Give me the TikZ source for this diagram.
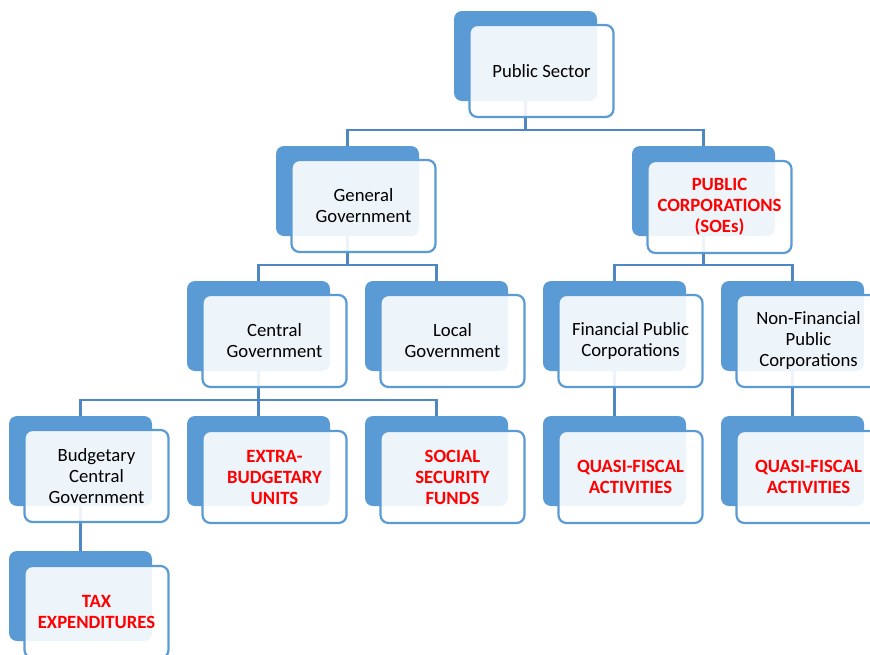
\documentclass[tikz,border=0pt]{standalone}
\usepackage{fontspec}
\setmainfont{Carlito}
\definecolor{boxblue}{HTML}{5B9BD5}
\definecolor{lineblue}{HTML}{4F87C2}
\definecolor{hotred}{HTML}{FF0000}
\begin{document}
\begin{tikzpicture}[x=1pt,y=-1pt,
  backbox/.style={fill=boxblue, rounded corners=8pt, minimum width=143pt,
    minimum height=90pt, inner sep=0pt},
  frontbox/.style={draw=boxblue, line width=2.2pt, fill=white, fill opacity=0.9,
    text opacity=1, rounded corners=8pt, minimum width=144pt, minimum height=92pt,
    inner sep=0pt, align=center, font=\fontsize{18.7}{21}\selectfont},
  hot/.style={text=hotred, font=\fontsize{18.7}{21}\selectfont\bfseries},
  link/.style={draw=lineblue, line width=2.2pt}]
\useasboundingbox (0,0) rectangle (870,654);
\clip (0,0) rectangle (870,654);

% back tiles (centres)
\node[backbox] (ps-b)  at (525.5,56)  {};
\node[backbox] (gg-b)  at (347.5,191) {};
\node[backbox] (pc-b)  at (703.5,191) {};
\node[backbox] (cg-b)  at (258.5,326) {};
\node[backbox] (lg-b)  at (436.5,326) {};
\node[backbox] (fp-b)  at (614.5,326) {};
\node[backbox] (nf-b)  at (792.5,326) {};
\node[backbox] (bc-b)  at (80.5,461)  {};
\node[backbox] (eb-b)  at (258.5,461) {};
\node[backbox] (ss-b)  at (436.5,461) {};
\node[backbox] (qf1-b) at (614.5,461) {};
\node[backbox] (qf2-b) at (792.5,461) {};
\node[backbox] (te-b)  at (80.5,596)  {};

% tree connectors
\draw[link] (ps-b.south) -- ++(0,29) -| (gg-b.north);
\draw[link] (ps-b.south) -- ++(0,29) -| (pc-b.north);
\draw[link] (gg-b.south) -- ++(0,29) -| (cg-b.north);
\draw[link] (gg-b.south) -- ++(0,29) -| (lg-b.north);
\draw[link] (pc-b.south) -- ++(0,29) -| (fp-b.north);
\draw[link] (pc-b.south) -- ++(0,29) -| (nf-b.north);
\draw[link] (cg-b.south) -- ++(0,29) -| (bc-b.north);
\draw[link] (cg-b.south) -- ++(0,29) -| (eb-b.north);
\draw[link] (cg-b.south) -- ++(0,29) -| (ss-b.north);
\draw[link] (fp-b.south) -- (qf1-b.north);
\draw[link] (nf-b.south) -- (qf2-b.north);
\draw[link] (bc-b.south) -- (te-b.north);

% front tiles with labels
\node[frontbox] (ps)  at (541.5,71)  {Public Sector};
\node[frontbox] (gg)  at (363.5,206) {General\\Government};
\node[frontbox,hot] (pc) at (719.5,207) {PUBLIC\\CORPORATIONS\\(SOEs)};
\node[frontbox] (cg)  at (274.5,341) {Central\\Government};
\node[frontbox] (lg)  at (452.5,341) {Local\\Government};
\node[frontbox] (fp)  at (630.5,341) {Financial Public\\Corporations};
\node[frontbox] (nf)  at (808.5,341) {Non-Financial\\Public\\Corporations};
\node[frontbox] (bc)  at (96.5,476)  {Budgetary\\Central\\Government};
\node[frontbox,hot] (eb)  at (274.5,477) {EXTRA-\\BUDGETARY\\UNITS};
\node[frontbox,hot] (ss)  at (452.5,477) {SOCIAL\\SECURITY\\FUNDS};
\node[frontbox,hot] (qf1) at (630.5,477) {QUASI-FISCAL\\ACTIVITIES};
\node[frontbox,hot] (qf2) at (808.5,477) {QUASI-FISCAL\\ACTIVITIES};
\node[frontbox,hot] (te)  at (96.5,612)  {TAX\\EXPENDITURES};
\end{tikzpicture}
\end{document}
